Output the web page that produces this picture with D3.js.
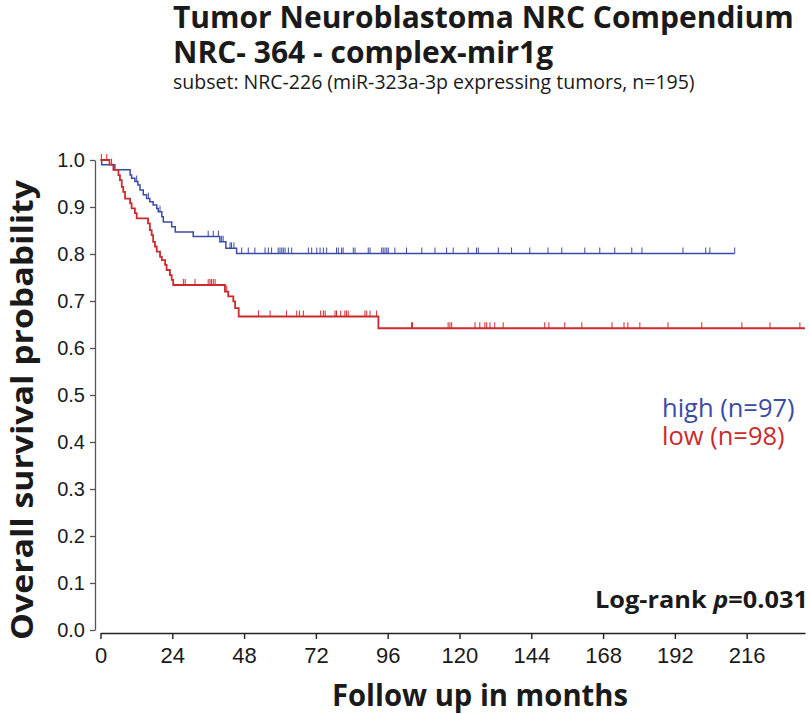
<!DOCTYPE html>
<html>
<head>
<meta charset="utf-8">
<script src="https://cdn.jsdelivr.net/npm/d3@7"></script>
<style>
	body {margin: 0; background: #fff;}
	.tick text {font-family: "Liberation Sans", Arial, sans-serif; fill: #1a1a1a;}
</style>
</head>
<body>
<div id="kmVis"></div>
<script>
// chart data
const X_TICKS = [0, 24, 48, 72, 96, 120, 144, 168, 192, 216];
const Y_TICKS = [0, 0.1, 0.2, 0.3, 0.4, 0.5, 0.6, 0.7, 0.8, 0.9, 1.0];

// high group: event times (months) and survival right after each step
const HIGH_TIMES = [0, 0.4, 4.8, 9.9, 10.4, 11.5, 12.5, 13.2, 14.3, 15.4, 16.5, 17.6, 18.8, 19.3, 20.5, 21.0, 23.8, 25.0, 31.0, 39.9, 41.9, 45.5];
const HIGH_SURV = [1.0, 0.99, 0.979, 0.968, 0.961, 0.954, 0.947, 0.936, 0.926, 0.918, 0.911, 0.904, 0.897, 0.89, 0.879, 0.868, 0.858, 0.847, 0.837, 0.826, 0.812, 0.801];
const HIGH_END = 212;
const HIGH_CENSOR = [12.1, 16.0, 19.9, 36.0, 37.7, 39.4, 40.5, 41.0, 43.3, 43.8, 44.6, 47.2, 49.4, 51.6, 55.0, 56.1, 57.2, 59.4, 60.0, 60.6, 61.1, 61.7, 62.8, 63.9, 69.5, 70.6, 72.3, 73.4, 74.5, 75.6, 78.9, 79.5, 80.6, 81.1, 84.5, 85.1, 89.5, 90.1, 94.0, 94.5, 95.1, 95.7, 96.2, 98.4, 102.3, 107.4, 111.8, 115.7, 117.9, 122.9, 125.7, 126.3, 133.0, 137.4, 143.5, 149.6, 154.2, 161.9, 166.9, 171.9, 177.6, 181.0, 194.7, 202.3, 203.7, 212.0];

// low group
const LOW_TIMES = [0, 3.0, 4.3, 6.0, 6.5, 7.1, 7.6, 8.2, 9.9, 10.4, 11.5, 12.1, 15.9, 16.5, 17.1, 17.6, 18.2, 18.8, 19.9, 20.5, 21.6, 22.1, 23.2, 23.8, 24.3, 41.6, 42.7, 44.4, 45.0, 46.2, 92.9];
const LOW_SURV = [1.0, 0.99, 0.979, 0.968, 0.957, 0.943, 0.932, 0.918, 0.908, 0.897, 0.887, 0.876, 0.865, 0.851, 0.84, 0.826, 0.816, 0.805, 0.794, 0.787, 0.777, 0.766, 0.755, 0.745, 0.734, 0.72, 0.71, 0.699, 0.685, 0.667, 0.642];
const LOW_END = 235.5;
const LOW_CENSOR = [0.3, 2.1, 3.7, 27.7, 28.3, 31.6, 36.0, 36.6, 37.1, 37.7, 38.3, 42.2, 52.8, 56.7, 62.2, 65.6, 66.5, 67.8, 73.6, 74.5, 75.1, 78.4, 78.9, 80.3, 81.7, 82.2, 82.8, 88.4, 89.0, 90.1, 92.3, 104.0, 104.3, 116.2, 116.8, 117.4, 125.2, 126.8, 128.5, 129.1, 130.2, 131.8, 134.6, 148.5, 149.9, 155.2, 160.9, 171.0, 175.0, 176.3, 180.3, 189.7, 201.0, 214.4, 223.8, 233.8];

const GROUPS = [
	{name: "high (n=97)", times: HIGH_TIMES, surv: HIGH_SURV, end: HIGH_END, censor: HIGH_CENSOR, color: "#3b4ba3", width: 1.5},
	{name: "low (n=98)", times: LOW_TIMES, surv: LOW_SURV, end: LOW_END, censor: LOW_CENSOR, color: "#cc2a2e", width: 1.8}
];

const FRAME_WIDTH = 810;
const FRAME_HEIGHT = 714;
const TITLE_FONT = "'Open Sans', 'Noto Sans', sans-serif";

const FRAME = d3.select("#kmVis")
	.append("svg")
		.attr("width", FRAME_WIDTH)
		.attr("height", FRAME_HEIGHT);

// scales
const X_SCALE = d3.scaleLinear()
	.domain([0, 235.5])
	.range([100.5, 805]);

const Y_SCALE = d3.scaleLinear()
	.domain([0, 1])
	.range([630, 160]);

// x axis sits a little below y=0
FRAME.append("g")
	.attr("transform", "translate(0,633)")
	.call(d3.axisBottom(X_SCALE).tickValues(X_TICKS).tickSize(6).tickSizeOuter(0).tickPadding(8))
	.call(g => g.selectAll("path, line").attr("stroke", "#222").attr("stroke-width", 1.4))
	.call(g => g.selectAll("text").attr("font-size", "22px"));

// y axis sits a little left of x=0
FRAME.append("g")
	.attr("transform", "translate(95,0)")
	.call(d3.axisLeft(Y_SCALE).tickValues(Y_TICKS).tickFormat(d3.format(".1f")).tickSize(5).tickSizeOuter(0).tickPadding(5))
	.call(g => g.selectAll("path, line").attr("stroke", "#555").attr("stroke-width", 1.3))
	.call(g => g.selectAll("text").attr("font-size", "20px"));

// step line generator
const STEP_LINE = d3.line()
	.x(d => X_SCALE(d[0]))
	.y(d => Y_SCALE(d[1]))
	.curve(d3.curveStepAfter);

GROUPS.forEach(g => {
	let pts = g.times.map((t, i) => [t, g.surv[i]]);
	pts.push([g.end, g.surv[g.surv.length - 1]]);

	FRAME.append("path")
		.datum(pts)
		.attr("d", STEP_LINE)
		.attr("fill", "none")
		.attr("stroke", g.color)
		.attr("stroke-width", g.width);

	// censor marks stand up from the curve
	FRAME.append("g").selectAll("line")
		.data(g.censor)
		.enter()
		.append("line")
			.attr("x1", d => X_SCALE(d))
			.attr("x2", d => X_SCALE(d))
			.attr("y1", d => Y_SCALE(g.surv[d3.bisectRight(g.times, d) - 1]))
			.attr("y2", d => Y_SCALE(g.surv[d3.bisectRight(g.times, d) - 1]) - 6)
			.attr("stroke", g.color)
			.attr("stroke-width", 1);
});

// titles
FRAME.append("text")
	.attr("x", 173).attr("y", 28)
	.attr("font-family", TITLE_FONT).attr("font-weight", "bold").attr("font-size", "30px")
	.attr("fill", "#1a1a1a")
	.text("Tumor Neuroblastoma NRC Compendium");

FRAME.append("text")
	.attr("x", 173).attr("y", 63)
	.attr("font-family", TITLE_FONT).attr("font-weight", "bold").attr("font-size", "30px")
	.attr("fill", "#1a1a1a")
	.text("NRC- 364 - complex-mir1g");

FRAME.append("text")
	.attr("x", 173).attr("y", 89)
	.attr("font-family", TITLE_FONT).attr("font-size", "19.5px")
	.attr("fill", "#1a1a1a")
	.text("subset: NRC-226 (miR-323a-3p expressing tumors, n=195)");

// axis titles
FRAME.append("text")
	.attr("x", 480).attr("y", 706)
	.attr("text-anchor", "middle")
	.attr("font-family", TITLE_FONT).attr("font-weight", "bold").attr("font-size", "30px")
	.attr("textLength", 296).attr("lengthAdjust", "spacingAndGlyphs")
	.attr("fill", "#1a1a1a")
	.text("Follow up in months");

FRAME.append("text")
	.attr("transform", "translate(33,410) rotate(-90)")
	.attr("text-anchor", "middle")
	.attr("font-family", TITLE_FONT).attr("font-weight", "bold").attr("font-size", "31px")
	.attr("textLength", 460).attr("lengthAdjust", "spacingAndGlyphs")
	.attr("fill", "#1a1a1a")
	.text("Overall survival probability");

// legend
FRAME.selectAll(".legend")
	.data(GROUPS)
	.enter()
	.append("text")
		.attr("class", "legend")
		.attr("x", 662)
		.attr("y", (d, i) => 417 + i * 28)
		.attr("font-family", TITLE_FONT).attr("font-size", "25.5px")
		.attr("fill", d => d.color)
		.text(d => d.name);

// log-rank p value
const PTEXT = FRAME.append("text")
	.attr("x", 808).attr("y", 608)
	.attr("text-anchor", "end")
	.attr("font-family", TITLE_FONT).attr("font-weight", "bold").attr("font-size", "23px")
	.attr("textLength", 213).attr("lengthAdjust", "spacingAndGlyphs")
	.attr("fill", "#1a1a1a");
PTEXT.append("tspan").text("Log-rank ");
PTEXT.append("tspan").attr("font-style", "italic").text("p");
PTEXT.append("tspan").text("=0.031");
</script>
</body>
</html>
